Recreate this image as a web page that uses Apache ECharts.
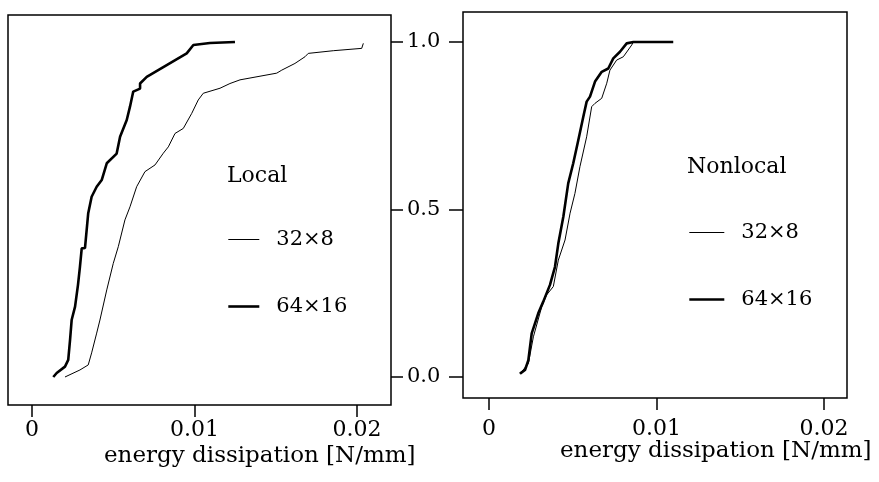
<!DOCTYPE html>
<html>
<head>
<meta charset="utf-8">
<script src="https://cdn.jsdelivr.net/npm/echarts@6/dist/echarts.min.js"></script>
<style>
html,body{margin:0;padding:0;background:#fff;}
#c{width:879px;height:482px;}
</style>
</head>
<body>
<div id="c"></div>
<script>
// ---- data ----
var seriesNames = ['32×8', '64×16'];
var xTicks = [0, 0.01, 0.02];
var yTicks = [0, 0.5, 1.0];

// Local, 32x8 (thin)
var local32x = [0.00203,0.00295,0.00346,0.00367,0.00398,0.00418,0.00460,0.00500,0.00531,0.00572,0.00603,0.00644,0.00695,0.00757,0.00808,0.00839,0.00880,0.00931,0.00983,0.01023,0.01054,0.01157,0.01218,0.01280,0.01506,0.01537,0.01618,0.01680,0.01700,0.01854,0.02029,0.02039];
var local32y = [0.000,0.021,0.036,0.072,0.131,0.170,0.260,0.339,0.389,0.469,0.508,0.568,0.613,0.633,0.668,0.687,0.727,0.742,0.787,0.827,0.847,0.862,0.876,0.887,0.907,0.916,0.936,0.956,0.966,0.974,0.981,0.996];

// Local, 64x16 (thick)
var local64x = [0.00131,0.00152,0.00203,0.00223,0.00234,0.00244,0.00265,0.00283,0.00295,0.00306,0.00326,0.00346,0.00367,0.00398,0.00429,0.00460,0.00521,0.00542,0.00583,0.00603,0.00623,0.00665,0.00665,0.00706,0.00829,0.00952,0.00993,0.01095,0.01249];
var local64y = [0.000,0.012,0.031,0.051,0.110,0.170,0.210,0.275,0.329,0.384,0.385,0.489,0.538,0.568,0.588,0.638,0.667,0.717,0.767,0.807,0.852,0.861,0.876,0.896,0.931,0.966,0.991,0.997,1.000];

// Nonlocal, 32x8 (thin)
var nonlocal32x = [0.00185,0.00235,0.00265,0.00315,0.00344,0.00384,0.00414,0.00454,0.00484,0.00513,0.00543,0.00583,0.00613,0.00633,0.00673,0.00703,0.00722,0.00762,0.00802,0.00852,0.00862];
var nonlocal32y = [0.010,0.040,0.120,0.210,0.245,0.270,0.349,0.409,0.489,0.548,0.628,0.717,0.807,0.817,0.832,0.877,0.916,0.946,0.956,0.991,1.000];

// Nonlocal, 64x16 (thick)
var nonlocal64x = [0.00185,0.00215,0.00235,0.00255,0.00294,0.00324,0.00364,0.00394,0.00414,0.00444,0.00473,0.00503,0.00533,0.00563,0.00583,0.00603,0.00633,0.00673,0.00712,0.00742,0.00782,0.00822,0.00862,0.01100];
var nonlocal64y = [0.010,0.021,0.050,0.130,0.190,0.225,0.275,0.329,0.399,0.479,0.578,0.638,0.707,0.777,0.822,0.837,0.882,0.911,0.921,0.951,0.971,0.996,1.000,1.000];

function pairs(xs, ys){ var out=[]; for (var i=0;i<xs.length;i++) out.push([xs[i], ys[i]]); return out; }

var FONT = 'DejaVu Serif';
var TXT = '#000';
var THIN = 1, THICK = 2.6;

function xAxisDef(gi, min, max, margin){
  return {
    type:'value', gridIndex:gi, min:min, max:max, position:'bottom',
    axisLine:{show:false, onZero:false},
    splitLine:{show:false},
    axisTick:{show:true, inside:false, length:12, customValues:xTicks, lineStyle:{color:'#000', width:1.5}},
    axisLabel:{show:true, customValues:xTicks, margin:margin, color:TXT, fontFamily:FONT, fontSize:22,
      formatter:function(v){ return v===0 ? '0' : v.toFixed(2); }}
  };
}

var legendData = [
  {name:seriesNames[0], lineStyle:{width:THIN, color:'#000'}},
  {name:seriesNames[1], lineStyle:{width:THICK, color:'#000'}}
];

var option = {
  animation:false,
  backgroundColor:'#fff',
  grid:[
    {left:8, top:15, width:383, height:390, show:true, borderColor:'#000', borderWidth:1.5, backgroundColor:'transparent'},
    {left:463, top:12, width:384, height:386, show:true, borderColor:'#000', borderWidth:1.5, backgroundColor:'transparent'}
  ],
  xAxis:[
    xAxisDef(0, -0.001477, 0.022092, 14),
    xAxisDef(1, -0.001552, 0.021373, 20)
  ],
  yAxis:[
    {type:'value', gridIndex:0, min:-0.0836, max:1.0806, position:'right',
      axisLine:{show:false, onZero:false}, splitLine:{show:false},
      axisTick:{show:true, inside:false, length:12, customValues:yTicks, lineStyle:{color:'#000', width:1.5}},
      axisLabel:{show:true, customValues:yTicks, margin:16, color:TXT, fontFamily:FONT, fontSize:21,
        formatter:function(v){ return v.toFixed(1); }}},
    {type:'value', gridIndex:1, min:-0.0627, max:1.0896, position:'left',
      axisLine:{show:false, onZero:false}, splitLine:{show:false},
      axisTick:{show:true, inside:false, length:14, customValues:yTicks, lineStyle:{color:'#000', width:1.5}},
      axisLabel:{show:false}}
  ],
  title:[
    {text:'energy dissipation [N/mm]', left:104, top:445, padding:0, textStyle:{fontFamily:FONT, fontSize:23, fontWeight:'normal', color:TXT}},
    {text:'energy dissipation [N/mm]', left:560, top:440, padding:0, textStyle:{fontFamily:FONT, fontSize:23, fontWeight:'normal', color:TXT}},
    {text:'Local', left:227, top:165, padding:0, textStyle:{fontFamily:FONT, fontSize:22, fontWeight:'normal', color:TXT}},
    {text:'Nonlocal', left:687, top:156, padding:0, textStyle:{fontFamily:FONT, fontSize:22, fontWeight:'normal', color:TXT}}
  ],
  legend:[
    {orient:'vertical', left:227, top:229, padding:0, itemWidth:31, itemHeight:14, itemGap:46, selectedMode:false,
      itemStyle:{opacity:0, borderWidth:0},
      data:legendData, textStyle:{fontFamily:FONT, fontSize:21, color:TXT, padding:[0,0,0,12]}},
    {orient:'vertical', left:688, top:222, padding:0, itemWidth:35, itemHeight:14, itemGap:46, selectedMode:false,
      itemStyle:{opacity:0, borderWidth:0},
      data:legendData, textStyle:{fontFamily:FONT, fontSize:21, color:TXT, padding:[0,0,0,12]}}
  ],
  series:[
    {name:seriesNames[0], type:'line', xAxisIndex:0, yAxisIndex:0, data:pairs(local32x, local32y), symbol:'none', lineStyle:{color:'#000', width:THIN}, itemStyle:{color:'#000'}},
    {name:seriesNames[1], type:'line', xAxisIndex:0, yAxisIndex:0, data:pairs(local64x, local64y), symbol:'none', lineStyle:{color:'#000', width:THICK}, itemStyle:{color:'#000'}},
    {name:seriesNames[0], type:'line', xAxisIndex:1, yAxisIndex:1, data:pairs(nonlocal32x, nonlocal32y), symbol:'none', lineStyle:{color:'#000', width:THIN}, itemStyle:{color:'#000'}},
    {name:seriesNames[1], type:'line', xAxisIndex:1, yAxisIndex:1, data:pairs(nonlocal64x, nonlocal64y), symbol:'none', lineStyle:{color:'#000', width:THICK}, itemStyle:{color:'#000'}}
  ]
};

var chart = echarts.init(document.getElementById('c'), null, {renderer:'canvas'});
chart.setOption(option);
</script>
</body>
</html>
